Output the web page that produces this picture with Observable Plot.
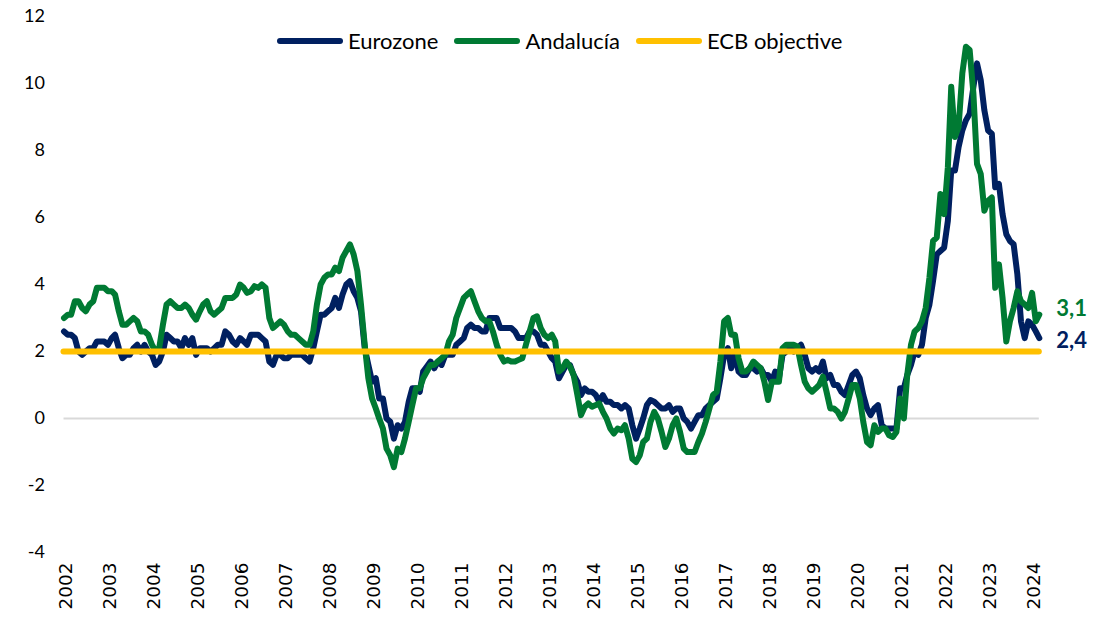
<!DOCTYPE html>
<html>
<head>
<meta charset="utf-8">
<script src="https://cdn.jsdelivr.net/npm/d3@7"></script>
<script src="https://cdn.jsdelivr.net/npm/@observablehq/plot@0.6"></script>
<style>
  html, body { margin: 0; padding: 0; background: #fff; }
  #wrap { position: relative; width: 1093px; height: 619px; }
  #legend { position: absolute; top: 27px; left: 277px; display: flex; align-items: center;
            font-family: Lato, "Open Sans", sans-serif; font-size: 22px; color: #000; white-space: nowrap; }
  #legend .item { display: flex; align-items: center; margin-right: 16px; }
  #legend .sw { width: 66px; height: 6px; border-radius: 3px; margin-right: 5px; }
</style>
</head>
<body>
<div id="wrap"><div id="legend"></div></div>
<script>
// ---- data (annual inflation rate, %, monthly Jan 2002 – Mar 2024) ----
const startYear = 2002;
const eurozone = [
  2.6, 2.5, 2.5, 2.4, 2.0, 1.9, 2.0, 2.1, 2.1, 2.3, 2.3, 2.3,
  2.2, 2.4, 2.5, 2.1, 1.8, 1.9, 1.9, 2.1, 2.2, 2.0, 2.2, 2.0,
  1.9, 1.6, 1.7, 2.0, 2.5, 2.4, 2.3, 2.3, 2.1, 2.4, 2.2, 2.4,
  1.9, 2.1, 2.1, 2.1, 2.0, 2.1, 2.2, 2.2, 2.6, 2.5, 2.3, 2.2,
  2.4, 2.3, 2.2, 2.5, 2.5, 2.5, 2.4, 2.3, 1.7, 1.6, 1.9, 1.9,
  1.8, 1.8, 1.9, 1.9, 1.9, 1.9, 1.8, 1.7, 2.1, 2.6, 3.1, 3.1,
  3.2, 3.3, 3.6, 3.3, 3.7, 4.0, 4.1, 3.8, 3.6, 3.2, 2.1, 1.6,
  1.1, 1.2, 0.6, 0.6, 0.0, -0.1, -0.6, -0.2, -0.3, -0.1, 0.5, 0.9,
  0.9, 0.8, 1.4, 1.55, 1.7, 1.5, 1.7, 1.6, 1.9, 1.9, 1.9, 2.2,
  2.3, 2.4, 2.7, 2.8, 2.7, 2.7, 2.6, 2.6, 3.0, 3.0, 3.0, 2.7,
  2.7, 2.7, 2.7, 2.6, 2.4, 2.4, 2.4, 2.6, 2.6, 2.5, 2.2, 2.2,
  2.0, 1.8, 1.7, 1.2, 1.4, 1.6, 1.6, 1.3, 1.1, 0.7, 0.9, 0.8,
  0.8, 0.7, 0.5, 0.7, 0.5, 0.5, 0.4, 0.4, 0.3, 0.4, 0.3, -0.2,
  -0.6, -0.3, 0.0, 0.4, 0.55, 0.5, 0.4, 0.3, 0.3, 0.4, 0.2, 0.3,
  0.3, 0.0, -0.1, -0.3, -0.1, 0.1, 0.1, 0.3, 0.4, 0.5, 0.6, 1.2,
  1.9, 2.1, 1.5, 1.9, 1.4, 1.3, 1.3, 1.5, 1.5, 1.4, 1.5, 1.3,
  1.3, 1.1, 1.4, 1.2, 1.9, 2.0, 2.1, 2.0, 2.1, 2.2, 1.9, 1.5,
  1.4, 1.5, 1.4, 1.7, 1.2, 1.3, 1.0, 1.0, 0.8, 0.7, 1.0, 1.3,
  1.4, 1.2, 0.7, 0.3, 0.1, 0.3, 0.4, -0.2, -0.3, -0.3, -0.3, -0.3,
  0.9, 0.9, 1.3, 1.6, 2.0, 1.9, 2.2, 3.0, 3.4, 4.1, 4.9, 5.0,
  5.1, 5.9, 7.4, 7.4, 8.1, 8.6, 8.9, 9.1, 9.9, 10.6, 10.1, 9.2,
  8.6, 8.5, 6.9, 7.0, 6.1, 5.5, 5.3, 5.2, 4.3, 2.9, 2.4, 2.9,
  2.8, 2.6, 2.4
];
const andalucia = [
  3.0, 3.1, 3.1, 3.5, 3.5, 3.3, 3.2, 3.4, 3.5, 3.9, 3.9, 3.9,
  3.8, 3.8, 3.7, 3.2, 2.8, 2.8, 2.9, 3.0, 2.9, 2.6, 2.6, 2.5,
  2.2, 2.0, 2.1, 2.8, 3.4, 3.5, 3.4, 3.3, 3.3, 3.4, 3.3, 3.1,
  2.95, 3.2, 3.4, 3.5, 3.2, 3.1, 3.2, 3.3, 3.6, 3.6, 3.6, 3.7,
  4.0, 3.9, 3.75, 3.8, 3.95, 3.9, 4.0, 3.9, 3.0, 2.7, 2.8, 2.9,
  2.8, 2.6, 2.5, 2.5, 2.4, 2.3, 2.2, 2.2, 2.6, 3.4, 4.0, 4.2,
  4.3, 4.3, 4.5, 4.4, 4.8, 5.0, 5.2, 4.9, 4.4, 3.4, 2.2, 1.2,
  0.6, 0.3, 0.0, -0.3, -0.9, -1.1, -1.45, -0.9, -1.0, -0.6, -0.1, 0.4,
  0.9, 0.9, 1.2, 1.4, 1.6, 1.6, 1.7, 1.8, 1.9, 2.3, 2.5, 3.0,
  3.3, 3.6, 3.7, 3.8, 3.5, 3.2, 3.0, 2.9, 2.9, 2.6, 2.2, 1.9,
  1.7, 1.75, 1.7, 1.7, 1.75, 1.8, 2.2, 2.6, 3.0, 3.05, 2.7, 2.5,
  2.4, 2.5, 2.3, 1.4, 1.5, 1.7, 1.55, 1.3, 0.7, 0.1, 0.35, 0.45,
  0.35, 0.4, 0.45, 0.2, 0.0, -0.3, -0.45, -0.3, -0.35, -0.2, -0.6, -1.2,
  -1.3, -1.1, -0.7, -0.6, -0.1, 0.2, 0.0, -0.4, -0.85, -0.6, -0.2, 0.0,
  -0.4, -0.9, -1.0, -1.0, -1.0, -0.7, -0.45, -0.1, 0.3, 0.7, 0.8, 1.7,
  2.9, 3.0, 2.5, 2.5, 1.8, 1.4, 1.4, 1.5, 1.7, 1.6, 1.5, 1.1,
  0.55, 1.1, 1.1, 1.1, 2.1, 2.2, 2.2, 2.2, 2.15, 1.6, 1.1, 0.9,
  0.8, 0.9, 1.0, 1.25, 0.8, 0.3, 0.3, 0.2, 0.0, 0.2, 0.6, 1.0,
  1.0, 0.6, -0.1, -0.7, -0.8, -0.2, -0.4, -0.3, -0.3, -0.5, -0.55, -0.4,
  0.6, 0.0, 1.3, 2.2, 2.6, 2.7, 2.9, 3.3, 4.2, 5.3, 5.4, 6.7,
  6.1, 7.5, 9.9, 8.4, 8.7, 10.3, 11.1, 11.0, 9.7, 7.6, 7.3, 6.2,
  6.5, 6.6, 3.9, 4.6, 3.6, 2.3, 2.9, 3.3, 3.8, 3.5, 3.4, 3.3,
  3.75, 2.9, 3.1
];
const ecbTarget = 2;
const yTicks = [-4, -2, 0, 2, 4, 6, 8, 10, 12];
const yearLabels = d3.range(2002, 2025);
const seriesNames = ["Eurozone", "Andalucía", "ECB objective"];
const seriesColors = ["#002060", "#007A33", "#FFC000"];

// ---- build tables ----
const dates = eurozone.map((_, i) => new Date(Date.UTC(startYear, i, 1)));
const ezRows = eurozone.map((v, i) => ({date: dates[i], value: v}));
const anRows = andalucia.map((v, i) => ({date: dates[i], value: v}));
const lastDate = dates[dates.length - 1];
const comma = v => d3.format(".1f")(v).replace(".", ",");
const anEnd = [{date: lastDate, value: andalucia[andalucia.length - 1]}];
const ezEnd = [{date: lastDate, value: eurozone[eurozone.length - 1]}];
const yearTicks = yearLabels.map(y => new Date(Date.UTC(y, 0, 1)));

const chart = Plot.plot({
  width: 1093,
  height: 619,
  marginLeft: 63.5,
  marginRight: 54.2,
  marginTop: 16,
  marginBottom: 67,
  x: {type: "utc", domain: [dates[0], lastDate], label: null},
  y: {domain: [-4, 12], label: null},
  style: {background: "#fff", color: "#000", fontFamily: "Lato, sans-serif", overflow: "visible"},
  marks: [
    Plot.ruleY([0], {stroke: "#d9d9d9", strokeWidth: 2}),
    Plot.axisY({ticks: yTicks, tickSize: 0, tickPadding: 19, fontSize: 18, tickFormat: d => String(d), fill: "#000", label: null}),
    Plot.axisX({ticks: yearTicks, tickFormat: d => String(d.getUTCFullYear()), tickRotate: -90, tickSize: 0,
                tickPadding: 10, fontSize: 18.5, fontFamily: "DejaVu Sans", fill: "#000", dx: 2, label: null}),
    Plot.lineY(ezRows, {x: "date", y: "value", stroke: seriesColors[0], strokeWidth: 6, strokeLinejoin: "round"}),
    Plot.lineY(anRows, {x: "date", y: "value", stroke: seriesColors[1], strokeWidth: 6, strokeLinejoin: "round"}),
    Plot.ruleY([ecbTarget], {stroke: seriesColors[2], strokeWidth: 6, strokeLinecap: "round"}),
    Plot.text(anEnd, {x: "date", y: "value", text: d => comma(d.value), fill: seriesColors[1], dy: -6,
                      dx: 17, textAnchor: "start", fontSize: 22, fontWeight: "bold"}),
    Plot.text(ezEnd, {x: "date", y: "value", text: d => comma(d.value), fill: seriesColors[0], dy: 3,
                      dx: 17, textAnchor: "start", fontSize: 22, fontWeight: "bold"})
  ]
});
document.getElementById("wrap").prepend(chart);

// legend
const legend = document.getElementById("legend");
seriesNames.forEach((name, i) => {
  const item = document.createElement("div");
  item.className = "item";
  const sw = document.createElement("span");
  sw.className = "sw";
  sw.style.background = seriesColors[i];
  const t = document.createElement("span");
  t.textContent = name;
  item.append(sw, t);
  legend.append(item);
});
</script>
</body>
</html>
